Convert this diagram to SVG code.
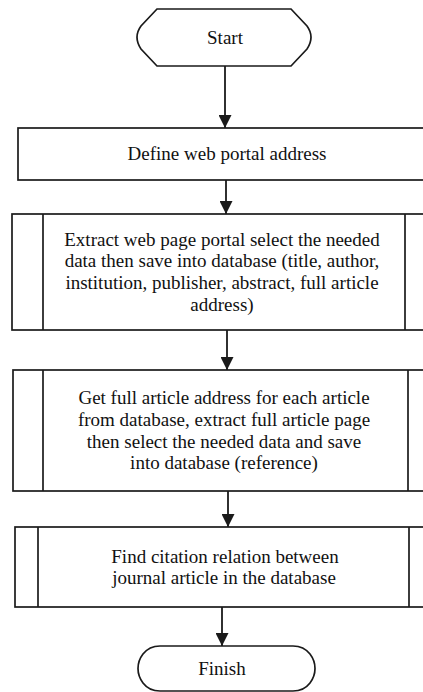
<svg xmlns="http://www.w3.org/2000/svg" width="423" height="692" viewBox="0 0 423 692">
<style>
.shape{fill:#fff;stroke:#1a1a1a;stroke-width:1.7}
.line{fill:none;stroke:#1a1a1a;stroke-width:1.7}
.conn{fill:none;stroke:#1a1a1a;stroke-width:1.8}
text{font-family:"Liberation Serif","Times New Roman",Times,serif;font-size:19px;fill:#111;text-anchor:middle}
</style>
<defs>
<marker id="arrow" markerUnits="userSpaceOnUse" markerWidth="14" markerHeight="13" refX="13" refY="6.5" orient="auto">
<path d="M0,0 L13,6.5 L0,13 Z" fill="#1a1a1a"/>
</marker>
</defs>
<rect width="423" height="692" fill="#fff"/>
<g id="connectors">
<line class="conn" x1="225" y1="66" x2="225" y2="128" marker-end="url(#arrow)"/>
<line class="conn" x1="226" y1="180" x2="226" y2="214" marker-end="url(#arrow)"/>
<line class="conn" x1="227" y1="330" x2="227" y2="370" marker-end="url(#arrow)"/>
<line class="conn" x1="228" y1="491" x2="228" y2="527" marker-end="url(#arrow)"/>
<line class="conn" x1="222" y1="607" x2="222" y2="646" marker-end="url(#arrow)"/>
</g>
<g id="start">
<path class="shape" d="M157,9 H291 L307,26 Q315,37 307,49 L291,66 H157 L141,49 Q133,37 141,26 Z"/>
<text x="225" y="44">Start</text>
</g>
<g id="define">
<rect class="shape" x="18" y="128" width="415" height="52"/>
<text x="227" y="160">Define web portal address</text>
</g>
<g id="extract">
<rect class="shape" x="12" y="214" width="421" height="116"/>
<line class="line" x1="43" y1="214" x2="43" y2="330"/>
<line class="line" x1="405" y1="214" x2="405" y2="330"/>
<text x="222" y="245.5">Extract web page portal select the needed</text>
<text x="222" y="267">data then save into database (title, author,</text>
<text x="222" y="289">institution, publisher, abstract, full article</text>
<text x="222" y="310.5">address)</text>
</g>
<g id="getfull">
<rect class="shape" x="13" y="370" width="420" height="121"/>
<line class="line" x1="43" y1="370" x2="43" y2="491"/>
<line class="line" x1="408" y1="370" x2="408" y2="491"/>
<text x="224" y="404">Get full article address for each article</text>
<text x="224" y="426">from database, extract full article page</text>
<text x="224" y="447.5">then select the needed data and save</text>
<text x="224" y="469">into database (reference)</text>
</g>
<g id="find">
<rect class="shape" x="15" y="527" width="418" height="80"/>
<line class="line" x1="38" y1="527" x2="38" y2="607"/>
<line class="line" x1="409" y1="527" x2="409" y2="607"/>
<text x="225" y="562.5">Find citation relation between</text>
<text x="224" y="584">journal article in the database</text>
</g>
<g id="finish">
<path class="shape" d="M160,646 H293 C309,646 315,660 315,668.5 C315,677 309,691 293,691 H160 C144,691 138,677 138,668.5 C138,660 144,646 160,646 Z"/>
<text x="222" y="675">Finish</text>
</g>
</svg>
